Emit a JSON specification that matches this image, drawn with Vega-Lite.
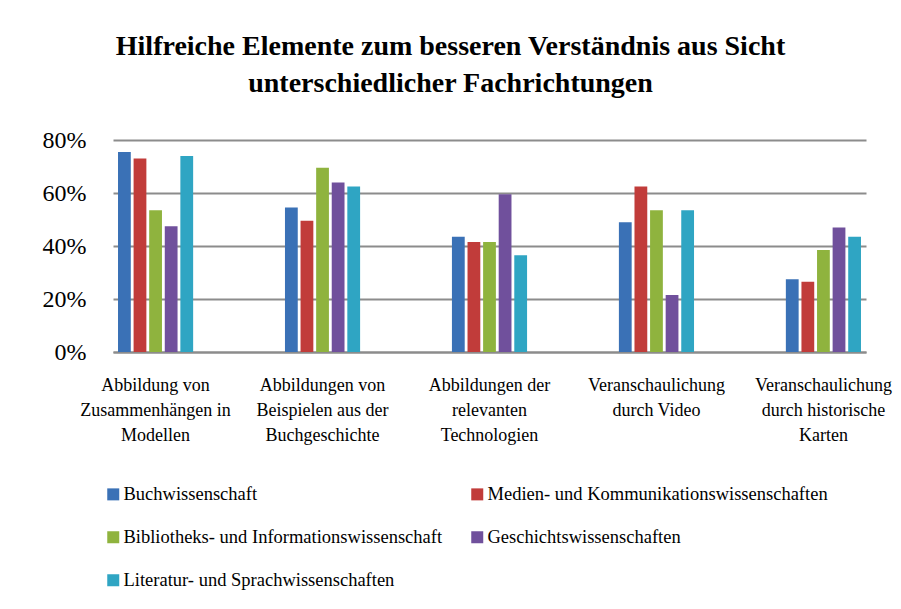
{
  "$schema": "https://vega.github.io/schema/vega-lite/v6.json",
  "width": 753,
  "height": 212,
  "autosize": {"type": "none"},
  "padding": {"left": 113, "top": 140, "right": 35, "bottom": 257},
  "background": "white",
  "title": {
    "text": ["Hilfreiche Elemente zum besseren Verständnis aus Sicht", "unterschiedlicher Fachrichtungen"],
    "font": "Liberation Serif",
    "fontSize": 28,
    "fontWeight": "bold",
    "color": "#000000",
    "anchor": "middle",
    "dx": -39,
    "offset": 30,
    "lineHeight": 37
  },
  "data": {
    "values": [
      {"cat": "Abbildung von\nZusammenhängen in\nModellen", "group": "Buchwissenschaft", "value": 0.755},
      {"cat": "Abbildung von\nZusammenhängen in\nModellen", "group": "Medien- und Kommunikationswissenschaften", "value": 0.73},
      {"cat": "Abbildung von\nZusammenhängen in\nModellen", "group": "Bibliotheks- und Informationswissenschaft", "value": 0.535},
      {"cat": "Abbildung von\nZusammenhängen in\nModellen", "group": "Geschichtswissenschaften", "value": 0.475},
      {"cat": "Abbildung von\nZusammenhängen in\nModellen", "group": "Literatur- und Sprachwissenschaften", "value": 0.74},
      {"cat": "Abbildungen von\nBeispielen aus der\nBuchgeschichte", "group": "Buchwissenschaft", "value": 0.545},
      {"cat": "Abbildungen von\nBeispielen aus der\nBuchgeschichte", "group": "Medien- und Kommunikationswissenschaften", "value": 0.495},
      {"cat": "Abbildungen von\nBeispielen aus der\nBuchgeschichte", "group": "Bibliotheks- und Informationswissenschaft", "value": 0.695},
      {"cat": "Abbildungen von\nBeispielen aus der\nBuchgeschichte", "group": "Geschichtswissenschaften", "value": 0.64},
      {"cat": "Abbildungen von\nBeispielen aus der\nBuchgeschichte", "group": "Literatur- und Sprachwissenschaften", "value": 0.625},
      {"cat": "Abbildungen der\nrelevanten\nTechnologien", "group": "Buchwissenschaft", "value": 0.435},
      {"cat": "Abbildungen der\nrelevanten\nTechnologien", "group": "Medien- und Kommunikationswissenschaften", "value": 0.415},
      {"cat": "Abbildungen der\nrelevanten\nTechnologien", "group": "Bibliotheks- und Informationswissenschaft", "value": 0.415},
      {"cat": "Abbildungen der\nrelevanten\nTechnologien", "group": "Geschichtswissenschaften", "value": 0.595},
      {"cat": "Abbildungen der\nrelevanten\nTechnologien", "group": "Literatur- und Sprachwissenschaften", "value": 0.365},
      {"cat": "Veranschaulichung\ndurch Video", "group": "Buchwissenschaft", "value": 0.49},
      {"cat": "Veranschaulichung\ndurch Video", "group": "Medien- und Kommunikationswissenschaften", "value": 0.625},
      {"cat": "Veranschaulichung\ndurch Video", "group": "Bibliotheks- und Informationswissenschaft", "value": 0.535},
      {"cat": "Veranschaulichung\ndurch Video", "group": "Geschichtswissenschaften", "value": 0.215},
      {"cat": "Veranschaulichung\ndurch Video", "group": "Literatur- und Sprachwissenschaften", "value": 0.535},
      {"cat": "Veranschaulichung\ndurch historische\nKarten", "group": "Buchwissenschaft", "value": 0.275},
      {"cat": "Veranschaulichung\ndurch historische\nKarten", "group": "Medien- und Kommunikationswissenschaften", "value": 0.265},
      {"cat": "Veranschaulichung\ndurch historische\nKarten", "group": "Bibliotheks- und Informationswissenschaft", "value": 0.385},
      {"cat": "Veranschaulichung\ndurch historische\nKarten", "group": "Geschichtswissenschaften", "value": 0.47},
      {"cat": "Veranschaulichung\ndurch historische\nKarten", "group": "Literatur- und Sprachwissenschaften", "value": 0.435}
    ]
  },
  "mark": {"type": "bar", "stroke": null},
  "encoding": {
    "x": {
      "field": "cat",
      "type": "nominal",
      "sort": null,
      "scale": {"paddingInner": 0.55, "paddingOuter": 0.03},
      "axis": {
        "title": null,
        "labelAngle": 0,
        "labelExpr": "split(datum.label, '\\n')",
        "labelFontSize": 18,
        "labelLineHeight": 25,
        "labelColor": "#000000",
        "labelPadding": 24,
        "labelBaseline": "top",
        "labelLimit": 0,
        "ticks": false,
        "domain": true,
        "domainColor": "#8c8c8c",
        "domainWidth": 2,
        "grid": false
      }
    },
    "xOffset": {
      "field": "group",
      "type": "nominal",
      "scale": {
        "domain": ["Buchwissenschaft", "Medien- und Kommunikationswissenschaften", "Bibliotheks- und Informationswissenschaft", "Geschichtswissenschaften", "Literatur- und Sprachwissenschaften"],
        "paddingInner": 0.18,
        "paddingOuter": 0
      }
    },
    "y": {
      "field": "value",
      "type": "quantitative",
      "scale": {"domain": [0, 0.8], "nice": false},
      "axis": {
        "title": null,
        "values": [0, 0.2, 0.4, 0.6, 0.8],
        "format": ".0%",
        "labelFontSize": 24,
        "labelColor": "#000000",
        "labelPadding": 27,
        "ticks": false,
        "domain": false,
        "grid": true,
        "gridColor": "#8c8c8c",
        "gridWidth": 2
      }
    },
    "color": {
      "field": "group",
      "type": "nominal",
      "scale": {
        "domain": ["Buchwissenschaft", "Medien- und Kommunikationswissenschaften", "Bibliotheks- und Informationswissenschaft", "Geschichtswissenschaften", "Literatur- und Sprachwissenschaften"],
        "range": ["#3a71b6", "#c13c3a", "#8fb33e", "#70509c", "#2fa5c3"]
      },
      "legend": {
        "title": null,
        "orient": "none",
        "legendX": -9,
        "legendY": 345,
        "columns": 2,
        "direction": "horizontal",
        "columnPadding": 25,
        "rowPadding": 24,
        "symbolType": "square",
        "symbolSize": 144,
        "symbolStrokeWidth": 0,
        "symbolOpacity": 1,
        "labelFontSize": 18.5,
        "labelColor": "#000000",
        "labelOffset": 1,
        "labelLimit": 0
      }
    }
  },
  "config": {
    "font": "Liberation Serif",
    "axis": {"labelFont": "Liberation Serif"},
    "legend": {"labelFont": "Liberation Serif"},
    "title": {"font": "Liberation Serif"},
    "view": {"stroke": null}
  }
}
